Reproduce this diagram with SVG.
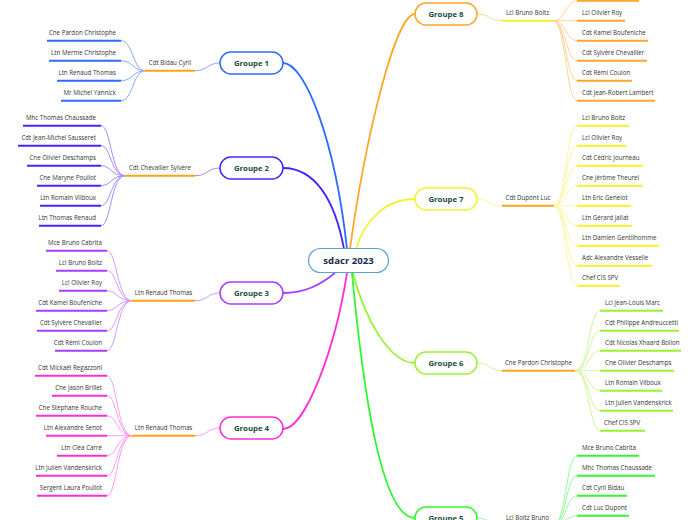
<svg xmlns="http://www.w3.org/2000/svg" width="696" height="520" viewBox="0 0 696 520">
<style>
text{font-family:"Open Sans","Noto Sans","Liberation Sans",sans-serif}
.lf{font-size:6.2px;fill:#333}
.le{text-anchor:end}
.sb{font-size:6.2px;fill:#333;text-anchor:middle}
.gt{font-size:7.8px;font-weight:bold;fill:#1b4d3e;text-anchor:middle}
.rt{font-size:9.6px;font-weight:bold;fill:#1a2a4a;text-anchor:middle}
.u{stroke-width:2;fill:none}
.c{stroke-width:1;fill:none}
.m{stroke-width:1.8;fill:none}
.box{fill:#fff;stroke-width:1.5}
.or{stroke:#ffa31a}
.b1{stroke:#2f6bff}.l1{stroke:#8aa8ff}
.b2{stroke:#4a22ff}.l2{stroke:#a08cff}
.b3{stroke:#a63dff}.l3{stroke:#d29cff}
.b4{stroke:#ff2fd8}.l4{stroke:#ff9cee}
.b5{stroke:#33f533}.l5{stroke:#9cf59c}
.b6{stroke:#9cf033}.l6{stroke:#cff59c}
.b7{stroke:#f2f230}.l7{stroke:#f8f8a0}
.b8{stroke:#ffa62b}.l8{stroke:#ffd49a}
</style>
<g id="connectors">
<path class="m b1" d="M283,63 C305,63 335,140 347,249"/>
<path class="m b2" d="M283,168 C315,168 335,200 344,249"/>
<path class="m b3" d="M283,293 C305,293 320,285 335,273"/>
<path class="m b4" d="M283,429 C305,429 335,350 347,273"/>
<path class="m b8" d="M415,14 C395,14 365,140 350,249"/>
<path class="m b7" d="M415,199 C385,199 365,220 356,249"/>
<path class="m b6" d="M353,273 C365,320 390,363 415,363"/>
<path class="m b5" d="M352,273 C362,380 380,518 415,518"/>
<path class="c l1" d="M220,63 C207,63 208,70.7 195,70.7"/>
<path class="c l2" d="M220,168 C207,168 208,175.7 195,175.7"/>
<path class="c l3" d="M220,293 C207,293 208,300.7 195,300.7"/>
<path class="c l4" d="M220,428 C207,428 208,435.7 195,435.7"/>
<path class="c l8" d="M477,14 C490,14 489,20.7 502,20.7"/>
<path class="c l7" d="M477,199 C490,199 489,205.7 502,205.7"/>
<path class="c l6" d="M477,363 C490,363 489,370.7 502,370.7"/>
<path class="c l5" d="M477,518 C490,518 489,525.7 502,525.7"/>
<g class="c l1">
<path d="M145,70.7 C133,70.7 133,40.7 121,40.7"/><path d="M145,70.7 C133,70.7 133,60.7 121,60.7"/><path d="M145,70.7 C133,70.7 133,80.7 121,80.7"/><path d="M145,70.7 C133,70.7 133,100.7 121,100.7"/>
</g>
<g class="c l2">
<path d="M125,175.7 C111,175.7 111,125.7 101,125.7"/><path d="M125,175.7 C111,175.7 111,145.7 101,145.7"/><path d="M125,175.7 C111,175.7 111,165.7 101,165.7"/><path d="M125,175.7 C111,175.7 111,185.7 101,185.7"/><path d="M125,175.7 C111,175.7 111,205.7 101,205.7"/><path d="M125,175.7 C111,175.7 111,225.7 101,225.7"/>
</g>
<g class="c l3">
<path d="M132,300.7 C117,300.7 117,250.7 107,250.7"/><path d="M132,300.7 C117,300.7 117,270.7 107,270.7"/><path d="M132,300.7 C117,300.7 117,290.7 107,290.7"/><path d="M132,300.7 C117,300.7 117,310.7 107,310.7"/><path d="M132,300.7 C117,300.7 117,330.7 107,330.7"/><path d="M132,300.7 C117,300.7 117,350.7 107,350.7"/>
</g>
<g class="c l4">
<path d="M132,435.7 C117,435.7 117,375.7 107,375.7"/><path d="M132,435.7 C117,435.7 117,395.7 107,395.7"/><path d="M132,435.7 C117,435.7 117,415.7 107,415.7"/><path d="M132,435.7 C117,435.7 117,435.7 107,435.7"/><path d="M132,435.7 C117,435.7 117,455.7 107,455.7"/><path d="M132,435.7 C117,435.7 117,475.7 107,475.7"/><path d="M132,435.7 C117,435.7 117,495.7 107,495.7"/>
</g>
<g class="c l8">
<path d="M553,20.7 C566,20.7 566,0.7 577,0.7"/><path d="M553,20.7 C566,20.7 566,20.7 577,20.7"/><path d="M553,20.7 C566,20.7 566,40.7 577,40.7"/><path d="M553,20.7 C566,20.7 566,60.7 577,60.7"/><path d="M553,20.7 C566,20.7 566,80.7 577,80.7"/><path d="M553,20.7 C566,20.7 566,100.7 577,100.7"/>
</g>
<g class="c l7">
<path d="M554,205.7 C566,205.7 566,125.7 577,125.7"/><path d="M554,205.7 C566,205.7 566,145.7 577,145.7"/><path d="M554,205.7 C566,205.7 566,165.7 577,165.7"/><path d="M554,205.7 C566,205.7 566,185.7 577,185.7"/><path d="M554,205.7 C566,205.7 566,205.7 577,205.7"/><path d="M554,205.7 C566,205.7 566,225.7 577,225.7"/><path d="M554,205.7 C566,205.7 566,245.7 577,245.7"/><path d="M554,205.7 C566,205.7 566,265.7 577,265.7"/><path d="M554,205.7 C566,205.7 566,285.7 577,285.7"/>
</g>
<g class="c l6">
<path d="M575,370.7 C589,370.7 589,310.7 600,310.7"/><path d="M575,370.7 C589,370.7 589,330.7 600,330.7"/><path d="M575,370.7 C589,370.7 589,350.7 600,350.7"/><path d="M575,370.7 C589,370.7 589,370.7 600,370.7"/><path d="M575,370.7 C589,370.7 589,390.7 600,390.7"/><path d="M575,370.7 C589,370.7 589,410.7 600,410.7"/><path d="M575,370.7 C589,370.7 589,430.7 600,430.7"/>
</g>
<g class="c l5">
<path d="M553,525.7 C566,525.7 566,455.7 577,455.7"/><path d="M553,525.7 C566,525.7 566,475.7 577,475.7"/><path d="M553,525.7 C566,525.7 566,495.7 577,495.7"/><path d="M553,525.7 C566,525.7 566,515.7 577,515.7"/>
</g>
</g>
<g id="root">
<rect x="308.5" y="248.5" width="80" height="24" rx="12" fill="#fff" stroke="#5aa0d8" stroke-width="1.2"/>
<text class="rt" x="348.5" y="264">sdacr 2023</text>
</g>
<g id="groupe1">
<rect class="box b1" x="220" y="52" width="63" height="22" rx="11"/><text class="gt" x="251.5" y="66">Groupe 1</text>
<line class="u or" x1="145" y1="70.7" x2="195" y2="70.7"/><text class="sb" x="170" y="64.5">Cdt Bidau Cyril</text>
<g class="u b1"><line x1="47" y1="40.7" x2="121" y2="40.7"/><line x1="49" y1="60.7" x2="121" y2="60.7"/><line x1="57" y1="80.7" x2="121" y2="80.7"/><line x1="61" y1="100.7" x2="121" y2="100.7"/></g>
<text class="lf le" x="116" y="34.7">Cne Pardon Christophe</text><text class="lf le" x="116" y="54.7">Ltn Merme Christophe</text><text class="lf le" x="116" y="74.7">Ltn Renaud Thomas</text><text class="lf le" x="116" y="94.7">Mr Michel Yannick</text>
</g>
<g id="groupe2">
<rect class="box b2" x="220" y="157" width="63" height="22" rx="11"/><text class="gt" x="251.5" y="171">Groupe 2</text>
<line class="u or" x1="125" y1="175.7" x2="195" y2="175.7"/><text class="sb" x="160" y="169.5">Cdt Chevallier Sylvère</text>
<g class="u b2"><line x1="23" y1="125.7" x2="101" y2="125.7"/><line x1="18" y1="145.7" x2="101" y2="145.7"/><line x1="27" y1="165.7" x2="101" y2="165.7"/><line x1="37" y1="185.7" x2="101" y2="185.7"/><line x1="40" y1="205.7" x2="101" y2="205.7"/><line x1="39" y1="225.7" x2="101" y2="225.7"/></g>
<text class="lf le" x="96" y="119.7">Mhc Thomas Chaussade</text><text class="lf le" x="96" y="139.7">Cdt Jean-Michel Sausseret</text><text class="lf le" x="96" y="159.7">Cne Olivier Deschamps</text><text class="lf le" x="96" y="179.7">Cne Maryne Poullot</text><text class="lf le" x="96" y="199.7">Ltn Romain Vilboux</text><text class="lf le" x="96" y="219.7">Ltn Thomas Renaud</text>
</g>
<g id="groupe3">
<rect class="box b3" x="220" y="282" width="63" height="22" rx="11"/><text class="gt" x="251.5" y="296">Groupe 3</text>
<line class="u or" x1="132" y1="300.7" x2="195" y2="300.7"/><text class="sb" x="163.5" y="294.5">Ltn Renaud Thomas</text>
<g class="u b3"><line x1="46" y1="250.7" x2="107" y2="250.7"/><line x1="56" y1="270.7" x2="107" y2="270.7"/><line x1="59" y1="290.7" x2="107" y2="290.7"/><line x1="36" y1="310.7" x2="107" y2="310.7"/><line x1="37" y1="330.7" x2="107" y2="330.7"/><line x1="55" y1="350.7" x2="107" y2="350.7"/></g>
<text class="lf le" x="102" y="244.7">Mce Bruno Cabrita</text><text class="lf le" x="102" y="264.7">Lcl Bruno Boltz</text><text class="lf le" x="102" y="284.7">Lcl Olivier Roy</text><text class="lf le" x="102" y="304.7">Cdt Kamel Boufeniche</text><text class="lf le" x="102" y="324.7">Cdt Sylvère Chevallier</text><text class="lf le" x="102" y="344.7">Cdt Rémi Coulon</text>
</g>
<g id="groupe4">
<rect class="box b4" x="220" y="417" width="63" height="22" rx="11"/><text class="gt" x="251.5" y="431">Groupe 4</text>
<line class="u or" x1="132" y1="435.7" x2="195" y2="435.7"/><text class="sb" x="163.5" y="429.5">Ltn Renaud Thomas</text>
<g class="u b4"><line x1="35" y1="375.7" x2="107" y2="375.7"/><line x1="52" y1="395.7" x2="107" y2="395.7"/><line x1="36" y1="415.7" x2="107" y2="415.7"/><line x1="46" y1="435.7" x2="107" y2="435.7"/><line x1="57" y1="455.7" x2="107" y2="455.7"/><line x1="36" y1="475.7" x2="107" y2="475.7"/><line x1="37" y1="495.7" x2="107" y2="495.7"/></g>
<text class="lf le" x="102" y="369.7">Cdt Mickaël Regazzoni</text><text class="lf le" x="102" y="389.7">Cne Jason Brillet</text><text class="lf le" x="102" y="409.7">Cne Stéphane Rouche</text><text class="lf le" x="102" y="429.7">Ltn Alexandre Senot</text><text class="lf le" x="102" y="449.7">Ltn Cléa Carré</text><text class="lf le" x="102" y="469.7">Ltn Julien Vandenskrick</text><text class="lf le" x="102" y="489.7">Sergent Laura Poullot</text>
</g>
<g id="groupe8">
<rect class="box b8" x="415" y="3" width="62" height="22" rx="11"/><text class="gt" x="446" y="17">Groupe 8</text>
<line class="u b7" x1="502" y1="20.7" x2="553" y2="20.7"/><text class="sb" x="527.5" y="14.5">Lcl Bruno Boltz</text>
<g class="u b8"><line x1="577" y1="0.7" x2="639" y2="0.7"/><line x1="577" y1="20.7" x2="625" y2="20.7"/><line x1="577" y1="40.7" x2="648" y2="40.7"/><line x1="577" y1="60.7" x2="647" y2="60.7"/><line x1="577" y1="80.7" x2="632" y2="80.7"/><line x1="577" y1="100.7" x2="655" y2="100.7"/></g>
<text class="lf" x="582" y="14.7">Lcl Olivier Roy</text><text class="lf" x="582" y="34.7">Cdt Kamel Boufeniche</text><text class="lf" x="582" y="54.7">Cdt Sylvère Chevallier</text><text class="lf" x="582" y="74.7">Cdt Rémi Coulon</text><text class="lf" x="582" y="94.7">Cdt Jean-Robert Lambert</text>
</g>
<g id="groupe7">
<rect class="box b7" x="415" y="188" width="62" height="22" rx="11"/><text class="gt" x="446" y="202">Groupe 7</text>
<line class="u or" x1="502" y1="205.7" x2="554" y2="205.7"/><text class="sb" x="528" y="199.5">Cdt Dupont Luc</text>
<g class="u b7"><line x1="577" y1="125.7" x2="629" y2="125.7"/><line x1="577" y1="145.7" x2="626" y2="145.7"/><line x1="577" y1="165.7" x2="643" y2="165.7"/><line x1="577" y1="185.7" x2="643" y2="185.7"/><line x1="577" y1="205.7" x2="631" y2="205.7"/><line x1="577" y1="225.7" x2="632" y2="225.7"/><line x1="577" y1="245.7" x2="659" y2="245.7"/><line x1="577" y1="265.7" x2="652" y2="265.7"/><line x1="577" y1="285.7" x2="620" y2="285.7"/></g>
<text class="lf" x="582" y="119.7">Lcl Bruno Boltz</text><text class="lf" x="582" y="139.7">Lcl Olivier Roy</text><text class="lf" x="582" y="159.7">Cdt Cédric Journeau</text><text class="lf" x="582" y="179.7">Cne Jérôme Theurel</text><text class="lf" x="582" y="199.7">Ltn Eric Genelot</text><text class="lf" x="582" y="219.7">Ltn Gérard Jallat</text><text class="lf" x="582" y="239.7">Ltn Damien Gentilhomme</text><text class="lf" x="582" y="259.7">Adc Alexandre Vesselle</text><text class="lf" x="582" y="279.7">Chef CIS SPV</text>
</g>
<g id="groupe6">
<rect class="box b6" x="415" y="352" width="62" height="22" rx="11"/><text class="gt" x="446" y="366">Groupe 6</text>
<line class="u or" x1="502" y1="370.7" x2="575" y2="370.7"/><text class="sb" x="538.5" y="364.5">Cne Pardon Christophe</text>
<g class="u b6"><line x1="600" y1="310.7" x2="663" y2="310.7"/><line x1="600" y1="330.7" x2="679" y2="330.7"/><line x1="600" y1="350.7" x2="681" y2="350.7"/><line x1="600" y1="370.7" x2="674" y2="370.7"/><line x1="600" y1="390.7" x2="662" y2="390.7"/><line x1="600" y1="410.7" x2="673" y2="410.7"/><line x1="600" y1="430.7" x2="645" y2="430.7"/></g>
<text class="lf" x="605" y="304.7">Lcl Jean-Louis Marc</text><text class="lf" x="605" y="324.7">Cdt Philippe Andreuccetti</text><text class="lf" x="605" y="344.7">Cdt Nicolas Xhaard Bollon</text><text class="lf" x="605" y="364.7">Cne Olivier Deschamps</text><text class="lf" x="605" y="384.7">Ltn Romain Vilboux</text><text class="lf" x="605" y="404.7">Ltn Julien Vandenskrick</text><text class="lf" x="604" y="424.7">Chef CIS SPV</text>
</g>
<g id="groupe5">
<rect class="box b5" x="415" y="507" width="62" height="22" rx="11"/><text class="gt" x="446" y="521">Groupe 5</text>
<line class="u or" x1="502" y1="525.7" x2="553" y2="525.7"/><text class="sb" x="527.5" y="519.5">Lcl Boltz Bruno</text>
<g class="u b5"><line x1="577" y1="455.7" x2="639" y2="455.7"/><line x1="577" y1="475.7" x2="655" y2="475.7"/><line x1="577" y1="495.7" x2="627" y2="495.7"/><line x1="577" y1="515.7" x2="629" y2="515.7"/></g>
<text class="lf" x="582" y="449.7">Mce Bruno Cabrita</text><text class="lf" x="582" y="469.7">Mhc Thomas Chaussade</text><text class="lf" x="582" y="489.7">Cdt Cyril Bidau</text><text class="lf" x="582" y="509.7">Cdt Luc Dupont</text>
</g>
</svg>
